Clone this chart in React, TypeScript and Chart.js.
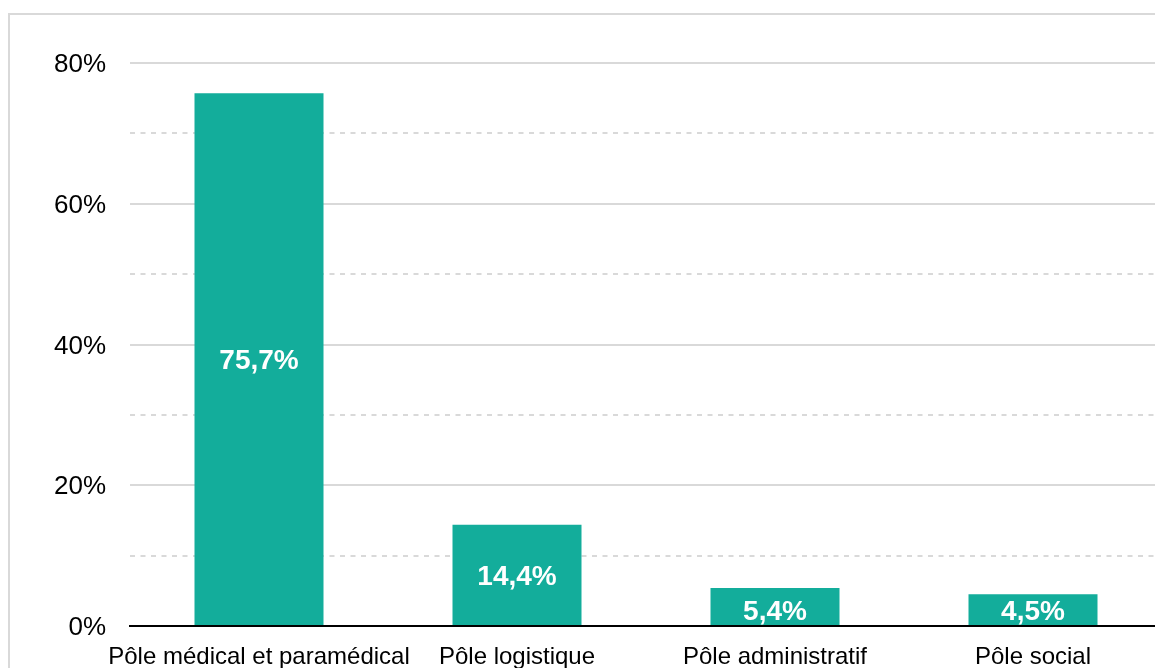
import React, { useEffect, useRef } from "react";
import { Chart, registerables } from "chart.js";

Chart.register(...registerables);

const categories = [
  "Pôle médical et paramédical",
  "Pôle logistique",
  "Pôle administratif",
  "Pôle social",
];
const values = [75.7, 14.4, 5.4, 4.5];
const yMax = 80;
const yStep = 10;
const labeledEvery = 20;

const FONT = '"Liberation Sans", Arial, Helvetica, sans-serif';
const BAR_COLOR = "#13ad9b";
const GRID_COLOR = "#d9d9d9";

const fmt = (v: number) => v.toFixed(1).replace(".", ",") + "%";

const barLabels = {
  id: "barLabels",
  afterDatasetsDraw(chart: any) {
    const ctx = chart.ctx;
    const meta = chart.getDatasetMeta(0);
    ctx.save();
    ctx.fillStyle = "#ffffff";
    ctx.font = `bold 28px ${FONT}`;
    ctx.textAlign = "center";
    ctx.textBaseline = "middle";
    meta.data.forEach((el: any, i: number) => {
      const v = chart.data.datasets[0].data[i];
      const h = Math.abs(el.base - el.y);
      const y = h < 42 ? el.base - 12.5 : (el.y + el.base) / 2 + 2;
      ctx.fillText(fmt(v), el.x, y);
    });
    ctx.restore();
  },
};

export default function App() {
  const ref = useRef<HTMLCanvasElement>(null);
  useEffect(() => {
    if (!ref.current) return;
    const chart = new Chart(ref.current, {
      type: "bar",
      data: {
        labels: categories,
        datasets: [
          {
            data: values,
            backgroundColor: BAR_COLOR,
            borderWidth: 0,
            barPercentage: 1,
            categoryPercentage: 0.5,
          },
        ],
      },
      options: {
        responsive: false,
        animation: false,
        layout: { padding: { top: 48, right: 28, left: 0, bottom: 0 } },
        plugins: { legend: { display: false }, tooltip: { enabled: false } },
        scales: {
          x: {
            grid: { display: false },
            border: { display: true, color: "#000000", width: 2 },
            ticks: {
              color: "#000000",
              font: { family: FONT, size: 24 },
              padding: 9,
              maxRotation: 0,
              autoSkip: false,
            },
            afterFit: (s: any) => {
              s.height = 89;
            },
          },
          y: {
            min: 0,
            max: yMax,
            border: {
              display: false,
              dash: (c: any) =>
                c.tick && c.tick.value % labeledEvery === 0 ? [] : [5, 5.5],
            } as any,
            grid: {
              color: GRID_COLOR,
              lineWidth: 2,
              drawTicks: false,
            },
            ticks: {
              stepSize: yStep,
              autoSkip: false,
              color: "#000000",
              font: { family: FONT, size: 26 },
              padding: 24,
              labelOffset: 2,
              callback: (v: any) => (Number(v) % labeledEvery === 0 ? v + "%" : ""),
            },
            afterFit: (s: any) => {
              s.width = 120;
            },
          },
        },
      },
      plugins: [barLabels],
    });
    return () => chart.destroy();
  }, []);

  return (
    <div
      style={{
        position: "fixed",
        left: 0,
        top: 0,
        width: "100vw",
        height: "100vh",
        overflow: "hidden",
        background: "#fff",
      }}
    >
      <div
        style={{
          position: "absolute",
          left: 8,
          top: 13,
          border: `2px solid ${GRID_COLOR}`,
          width: 1180,
          height: 700,
        }}
      >
        <canvas ref={ref} width={1180} height={700} style={{ display: "block" }} />
      </div>
    </div>
  );
}
